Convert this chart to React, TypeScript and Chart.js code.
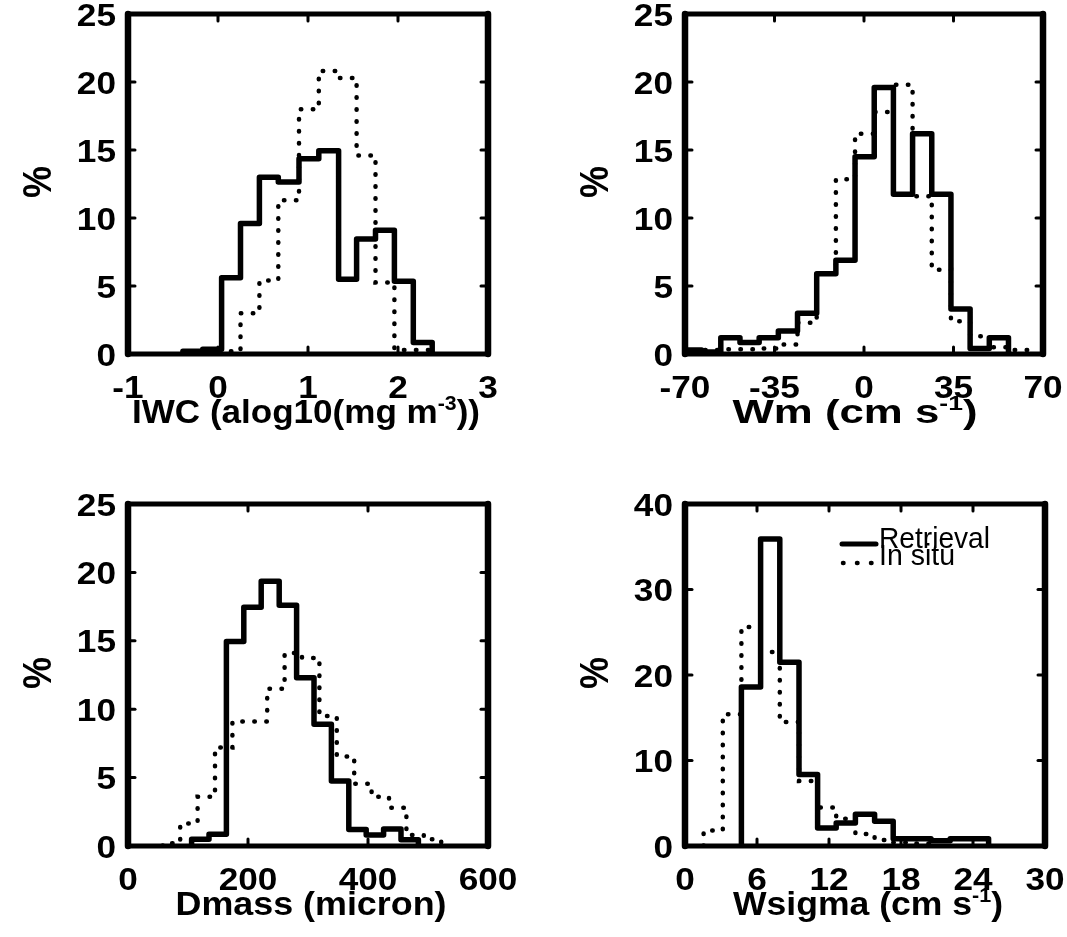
import React, { useEffect, useRef } from "react";
import { Chart, registerables } from "chart.js";

Chart.register(...registerables);

// ---------------- Data ----------------
const seriesLabels = ["Retrieval", "In situ"];

// IWC (alog10(mg m^-3))
const iwcEdges = [-0.39, -0.17, 0.04, 0.25, 0.46, 0.67, 0.9, 1.12, 1.34, 1.54, 1.75, 1.96, 2.17, 2.38];
const iwcRetrieval = [0.2, 0.35, 5.6, 9.6, 13.0, 12.65, 14.35, 14.95, 5.5, 8.45, 9.1, 5.35, 0.85];
const iwcInSituEdges = [0.04, 0.25, 0.46, 0.67, 0.9, 1.12, 1.34, 1.54, 1.75, 1.96, 2.17, 2.38];
const iwcInSitu = [0.2, 3.0, 5.4, 11.3, 18.0, 20.8, 20.3, 14.6, 5.25, 0.3, 0.3];

// Wm (cm s^-1)
const wmEdges = [-71, -63.5, -56, -48.5, -41, -33.5, -26, -18.5, -11, -3.5, 4, 11.5, 19, 26.5, 34, 41.5, 49, 56.5];
const wmRetrieval = [0.3, 0.15, 1.2, 0.85, 1.2, 1.7, 3.0, 5.9, 6.9, 14.5, 19.6, 11.75, 16.2, 11.75, 3.3, 0.4, 1.2];
const wmInSituEdges = [-71, -63.5, -56, -48.5, -41, -33.5, -26, -18.5, -11, -3.5, 4, 11.5, 19, 26.5, 34, 41.5, 49, 56.5, 64];
const wmInSitu = [0.2, 0.3, 0.35, 0.35, 0.4, 0.7, 2.3, 5.9, 12.85, 16.2, 17.8, 19.8, 11.6, 6.2, 2.4, 1.3, 0.5, 0.3];

// Dmass (micron)
const dmassEdges = [106, 135, 164, 193, 222, 252, 281, 310, 339, 368, 397, 426, 455, 484];
const dmassRetrieval = [0.5, 0.85, 14.95, 17.45, 19.35, 17.6, 12.3, 8.9, 4.75, 1.2, 0.8, 1.25, 0.45];
const dmassInSituEdges = [58, 87, 116, 145, 174, 203, 232, 261, 290, 319, 348, 377, 406, 435, 464, 493, 522];
const dmassInSitu = [0.2, 1.65, 3.6, 7.2, 9.1, 9.1, 11.5, 14.1, 13.75, 9.5, 6.55, 4.55, 3.6, 2.8, 0.8, 0.5];

// Wsigma (cm s^-1)
const wsigmaEdges = [4.7, 6.3, 7.9, 9.5, 11.05, 12.6, 14.2, 15.8, 17.35, 18.95, 20.5, 22.1, 23.7, 25.3];
const wsigmaRetrieval = [18.6, 35.9, 21.5, 8.35, 2.1, 2.7, 3.7, 2.9, 0.85, 0.85, 0.6, 0.85, 0.85];
const wsigmaInSituEdges = [1.55, 3.15, 4.7, 6.3, 7.9, 9.5, 11.05, 12.6, 14.2, 15.8, 17.35, 18.95, 20.5];
const wsigmaInSitu = [1.8, 15.4, 25.6, 22.7, 14.5, 7.6, 4.5, 3.2, 1.4, 0.7, 0.4, 0.3];

// Tick labels
const iwcTicksX = [-1, 0, 1, 2, 3];
const wmTicksX = [-70, -35, 0, 35, 70];
const dmassTicksX = [0, 200, 400, 600];
const wsigmaTicksX = [0, 6, 12, 18, 24, 30];
const pctTicks25 = [0, 5, 10, 15, 20, 25];
const pctTicks40 = [0, 10, 20, 30, 40];
const yAxisLabel = "%";

// ---------------- Helpers ----------------
type Part = { t: string; sup?: boolean };

function stepPoints(edges: number[], vals: number[]) {
  const pts: { x: number; y: number }[] = [{ x: edges[0], y: 0 }];
  vals.forEach((v, i) => pts.push({ x: edges[i], y: v }));
  pts.push({ x: edges[vals.length], y: 0 });
  return pts;
}

const FONT_FAMILY = '"Liberation Sans", Arial, Helvetica, sans-serif';
const TICK_FONT = `bold 32px ${FONT_FAMILY}`;
const TITLE_FONT = `bold 33px ${FONT_FAMILY}`;
const SUP_FONT = `bold 20px ${FONT_FAMILY}`;
const LABEL_FONT = `bold 36px ${FONT_FAMILY}`;
const LEGEND_FONT = `30px ${FONT_FAMILY}`;
const TICK_SX = 1.1;

function partsWidth(ctx: CanvasRenderingContext2D, parts: Part[], font: string, supFont: string) {
  let w = 0;
  for (const p of parts) {
    ctx.font = p.sup ? supFont : font;
    w += ctx.measureText(p.t).width;
  }
  return w;
}

function drawParts(
  ctx: CanvasRenderingContext2D,
  parts: Part[],
  x: number,
  baseline: number,
  align: "left" | "center" | "right",
  font: string,
  supFont: string,
  rise: number,
  sx: number
) {
  const w = partsWidth(ctx, parts, font, supFont);
  ctx.save();
  ctx.translate(x, baseline);
  ctx.scale(sx, 1);
  ctx.textAlign = "left";
  ctx.textBaseline = "alphabetic";
  let cx = align === "center" ? -w / 2 : align === "right" ? -w : 0;
  for (const p of parts) {
    ctx.font = p.sup ? supFont : font;
    ctx.fillText(p.t, cx, p.sup ? -rise : 0);
    cx += ctx.measureText(p.t).width;
  }
  ctx.restore();
}

function drawFitted(
  ctx: CanvasRenderingContext2D,
  parts: Part[],
  x: number,
  baseline: number,
  align: "left" | "center" | "right",
  font: string,
  supFont: string,
  rise: number,
  targetW: number
) {
  const w = partsWidth(ctx, parts, font, supFont);
  drawParts(ctx, parts, x, baseline, align, font, supFont, rise, targetW / w);
}

type PanelCfg = {
  canvas: { left: number; top: number; w: number; h: number };
  area: { left: number; top: number; right: number; bottom: number };
  xMin: number;
  xMax: number;
  yMax: number;
  xTicks: number[];
  yTicks: number[];
  ret: [number[], number[]];
  ins: [number[], number[]];
  title: Part[];
  titleX: number;
  titleW: number;
  legend: boolean;
};

const panels: PanelCfg[] = [
  {
    canvas: { left: 0, top: 0, w: 533, h: 468 },
    area: { left: 128, top: 14, right: 488, bottom: 354 },
    xMin: -1, xMax: 3, yMax: 25,
    xTicks: iwcTicksX, yTicks: pctTicks25,
    ret: [iwcEdges, iwcRetrieval], ins: [iwcInSituEdges, iwcInSitu],
    title: [{ t: "IWC (alog10(mg m" }, { t: "-3", sup: true }, { t: "))" }],
    titleX: 306, titleW: 348, legend: false,
  },
  {
    canvas: { left: 533, top: 0, w: 534, h: 468 },
    area: { left: 685, top: 14, right: 1043, bottom: 354 },
    xMin: -70, xMax: 70, yMax: 25,
    xTicks: wmTicksX, yTicks: pctTicks25,
    ret: [wmEdges, wmRetrieval], ins: [wmInSituEdges, wmInSitu],
    title: [{ t: "Wm (cm s" }, { t: "-1", sup: true }, { t: ")" }],
    titleX: 855, titleW: 245, legend: false,
  },
  {
    canvas: { left: 0, top: 468, w: 533, h: 469 },
    area: { left: 128, top: 504, right: 488, bottom: 846 },
    xMin: 0, xMax: 600, yMax: 25,
    xTicks: dmassTicksX, yTicks: pctTicks25,
    ret: [dmassEdges, dmassRetrieval], ins: [dmassInSituEdges, dmassInSitu],
    title: [{ t: "Dmass (micron)" }],
    titleX: 311, titleW: 271, legend: false,
  },
  {
    canvas: { left: 533, top: 468, w: 534, h: 469 },
    area: { left: 685, top: 504, right: 1045, bottom: 846 },
    xMin: 0, xMax: 30, yMax: 40,
    xTicks: wsigmaTicksX, yTicks: pctTicks40,
    ret: [wsigmaEdges, wsigmaRetrieval], ins: [wsigmaInSituEdges, wsigmaInSitu],
    title: [{ t: "Wsigma (cm s" }, { t: "-1", sup: true }, { t: ")" }],
    titleX: 868, titleW: 270, legend: true,
  },
];

function makeDecoPlugin(cfg: PanelCfg) {
  return {
    id: "panelDeco",
    afterDraw(chart: any) {
      const ctx: CanvasRenderingContext2D = chart.ctx;
      const a = chart.chartArea;
      const xs = chart.scales.x;
      const ys = chart.scales.y;
      const offX = cfg.canvas.left;
      const offY = cfg.canvas.top;
      ctx.save();
      ctx.strokeStyle = "#000";
      ctx.fillStyle = "#000";
      ctx.lineCap = "round";

      const seg = (x1: number, y1: number, x2: number, y2: number) => {
        ctx.beginPath();
        ctx.moveTo(x1, y1);
        ctx.lineTo(x2, y2);
        ctx.stroke();
      };

      // inward tick marks
      ctx.lineWidth = 3;
      for (const v of cfg.xTicks) {
        if (v === cfg.xMin || v === cfg.xMax) continue;
        const px = xs.getPixelForValue(v);
        seg(px, a.bottom, px, a.bottom - 7);
        seg(px, a.top, px, a.top + 7);
      }
      for (const v of cfg.yTicks) {
        if (v === 0 || v === cfg.yMax) continue;
        const py = ys.getPixelForValue(v);
        seg(a.left, py, a.left + 7, py);
        seg(a.right, py, a.right - 7, py);
      }

      // axes box
      ctx.lineWidth = 5;
      seg(a.left, a.top, a.right, a.top);
      seg(a.left, a.bottom, a.right, a.bottom);
      ctx.lineWidth = 6.5;
      seg(a.left, a.top, a.left, a.bottom);
      seg(a.right, a.top, a.right, a.bottom);

      // tick labels
      for (const v of cfg.xTicks) {
        const px = xs.getPixelForValue(v);
        drawParts(ctx, [{ t: String(v) }], px, a.bottom + 44, "center", TICK_FONT, TICK_FONT, 0, TICK_SX);
      }
      for (const v of cfg.yTicks) {
        const py = ys.getPixelForValue(v);
        drawParts(ctx, [{ t: String(v) }], a.left - 12, py + 11.5, "right", TICK_FONT, TICK_FONT, 0, TICK_SX);
      }

      // x title
      drawFitted(ctx, cfg.title, cfg.titleX - offX, a.bottom + 69, "center", TITLE_FONT, SUP_FONT, 13, cfg.titleW);

      // y label
      ctx.save();
      ctx.translate(a.left - 88, (a.top + a.bottom) / 2 - 2);
      ctx.scale(1.15, 1);
      ctx.rotate(-Math.PI / 2);
      ctx.font = LABEL_FONT;
      ctx.textAlign = "center";
      ctx.textBaseline = "middle";
      ctx.fillText(yAxisLabel, 0, 0);
      ctx.restore();

      // legend
      if (cfg.legend) {
        const ds = chart.data.datasets;
        ctx.lineWidth = 5;
        ctx.setLineDash([]);
        seg(842 - offX, 544 - offY, 876 - offX, 544 - offY);
        ctx.lineWidth = 4.5;
        ctx.setLineDash([0.5, 13.5]);
        seg(843 - offX, 563 - offY, 872 - offX, 563 - offY);
        ctx.setLineDash([]);
        drawFitted(ctx, [{ t: ds[0].label }], 879 - offX, 548 - offY, "left", LEGEND_FONT, LEGEND_FONT, 0, 111);
        drawFitted(ctx, [{ t: ds[1].label }], 879 - offX, 565 - offY, "left", LEGEND_FONT, LEGEND_FONT, 0, 76);
      }
      ctx.restore();
    },
  };
}

function Panel({ cfg }: { cfg: PanelCfg }) {
  const ref = useRef<HTMLCanvasElement>(null);
  useEffect(() => {
    const canvas = ref.current;
    if (!canvas) return;
    const c = cfg.canvas;
    const a = cfg.area;
    const chart = new Chart(canvas, {
      type: "line",
      data: {
        datasets: [
          {
            label: seriesLabels[0],
            data: stepPoints(cfg.ret[0], cfg.ret[1]),
            borderColor: "#000",
            borderWidth: 5.5,
            stepped: "before",
            pointRadius: 0,
            borderCapStyle: "round",
            borderJoinStyle: "round",
            fill: false,
            order: 1,
          },
          {
            label: seriesLabels[1],
            data: stepPoints(cfg.ins[0], cfg.ins[1]),
            borderColor: "#000",
            borderWidth: 4.5,
            borderDash: [0.5, 11.5],
            borderCapStyle: "round",
            stepped: "before",
            pointRadius: 0,
            fill: false,
            order: 2,
          },
        ],
      },
      options: {
        animation: false,
        responsive: false,
        devicePixelRatio: 1,
        events: [],
        layout: {
          padding: {
            left: a.left - c.left,
            top: a.top - c.top,
            right: c.left + c.w - a.right,
            bottom: c.top + c.h - a.bottom,
          },
        },
        scales: {
          x: { type: "linear", min: cfg.xMin, max: cfg.xMax, display: false },
          y: { type: "linear", min: 0, max: cfg.yMax, display: false },
        },
        plugins: {
          legend: { display: false },
          tooltip: { enabled: false },
          title: { display: false },
        },
      } as any,
      plugins: [makeDecoPlugin(cfg)],
    });
    return () => chart.destroy();
  }, [cfg]);
  const c = cfg.canvas;
  return (
    <canvas
      ref={ref}
      width={c.w}
      height={c.h}
      style={{ position: "absolute", left: c.left, top: c.top, width: c.w, height: c.h }}
    />
  );
}

export default function App() {
  return (
    <div style={{ position: "absolute", left: 0, top: 0, width: 1067, height: 937, background: "#fff" }}>
      {panels.map((p, i) => (
        <Panel key={i} cfg={p} />
      ))}
    </div>
  );
}
